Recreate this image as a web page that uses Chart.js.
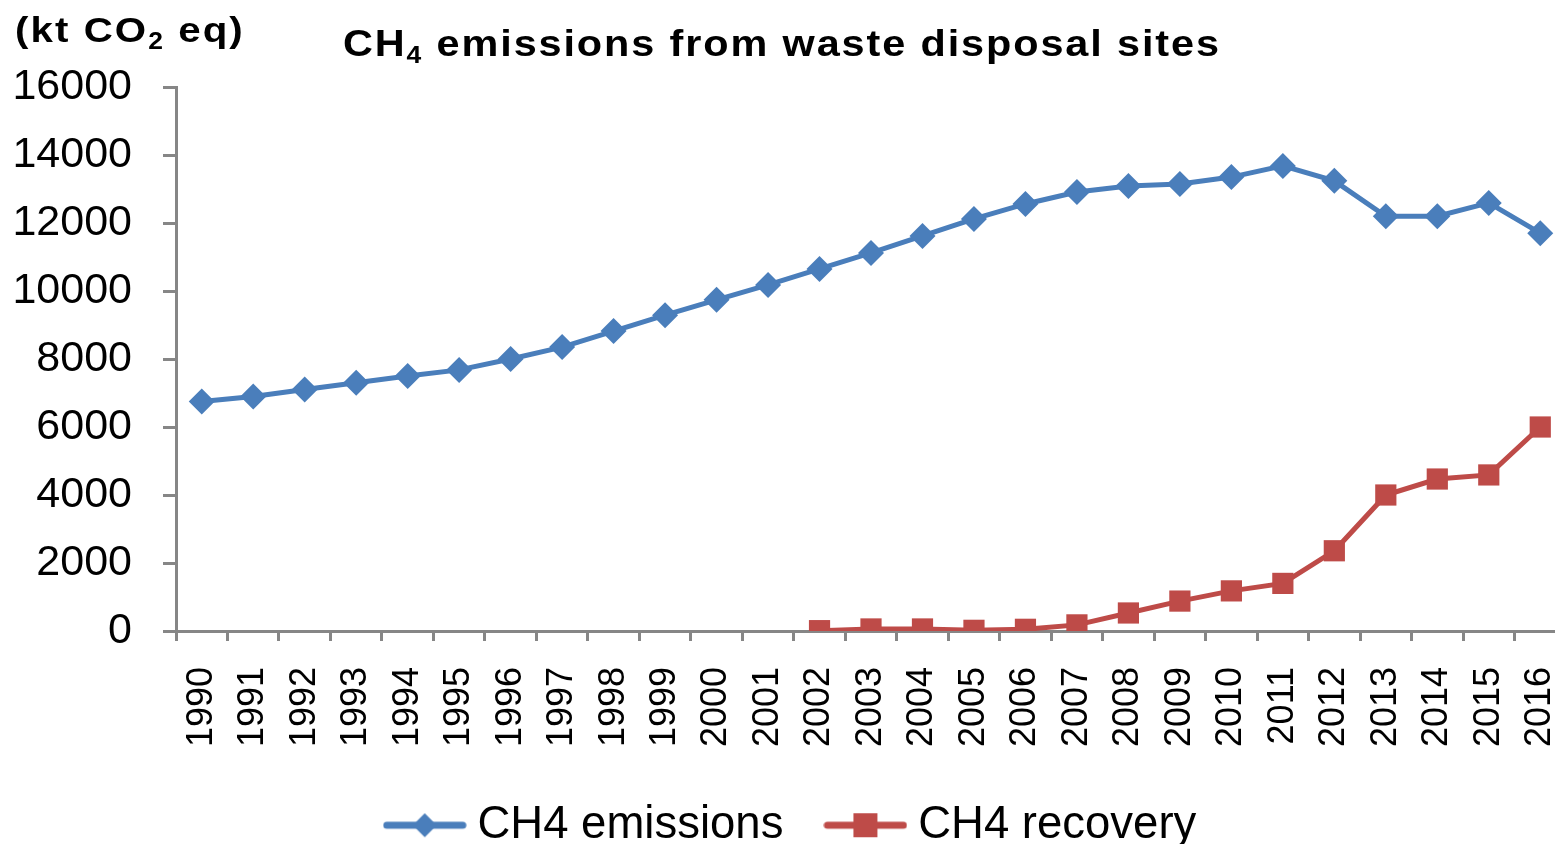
<!DOCTYPE html>
<html>
<head>
<meta charset="utf-8">
<script src="https://cdn.jsdelivr.net/npm/chart.js@4.4.1/dist/chart.umd.min.js"></script>
<style>
  html, body { margin: 0; padding: 0; background: #fff; overflow: hidden; }
  canvas { display: block; }
</style>
</head>
<body>
<canvas id="chart" width="1581" height="844"></canvas>
<script>
const years = ['1990', '1991', '1992', '1993', '1994', '1995', '1996', '1997', '1998', '1999',
  '2000', '2001', '2002', '2003', '2004', '2005', '2006', '2007', '2008', '2009',
  '2010', '2011', '2012', '2013', '2014', '2015', '2016'];
const emissions = [6750, 6900, 7100, 7300, 7500, 7680, 8000, 8350, 8820, 9290,
  9740, 10180, 10650, 11120, 11620, 12120, 12560, 12910, 13090, 13150,
  13350, 13680, 13240, 12200, 12200, 12590, 11700];
const recovery = [null, null, null, null, null, null, null, null, null, null,
  null, null, 10, 60, 60, 20, 50, 180, 530, 880,
  1180, 1400, 2360, 4000, 4470, 4590, 6000];
const yTicks = [0, 2000, 4000, 6000, 8000, 10000, 12000, 14000, 16000];

const blue = '#4A7EBB';
const red = '#BE4B48';
const axisGrey = '#868686';
const font = '"Liberation Sans", Arial, sans-serif';

// little line + marker image for the legend
function legendMark(color, shape) {
  const c = document.createElement('canvas');
  c.width = 84;
  c.height = 30;
  const g = c.getContext('2d');
  g.strokeStyle = color;
  g.lineWidth = 7;
  g.lineCap = 'round';
  g.beginPath();
  g.moveTo(4, 15);
  g.lineTo(80, 15);
  g.stroke();
  g.fillStyle = color;
  if (shape === 'diamond') {
    g.beginPath();
    g.moveTo(42, 3); g.lineTo(54, 15); g.lineTo(42, 27); g.lineTo(30, 15);
    g.closePath();
    g.fill();
  } else {
    g.fillRect(30, 3, 24, 24);
  }
  return c;
}
const marks = [legendMark(blue, 'diamond'), legendMark(red, 'square')];

// title and unit label with subscripts (the original type is a bit wide)
const headings = {
  id: 'headings',
  afterDraw(chart) {
    const ctx = chart.ctx;
    function run(parts, x, y, size, spacing, stretch) {
      ctx.save();
      ctx.fillStyle = '#000';
      ctx.textBaseline = 'alphabetic';
      ctx.translate(x, y);
      ctx.scale(stretch, 1);
      ctx.letterSpacing = spacing + 'px';
      let cx = 0;
      for (const [txt, sub] of parts) {
        ctx.font = 'bold ' + (sub ? Math.round(size * 0.65) : size) + 'px ' + font;
        ctx.fillText(txt, cx, sub ? size * 0.2 : 0);
        cx += ctx.measureText(txt).width;
      }
      ctx.letterSpacing = '0px';
      ctx.restore();
    }
    run([['(kt CO', false], ['2', true], [' eq)', false]], 15, 42, 35, 1.8, 1.15);
    run([['CH', false], ['4', true], [' emissions from waste disposal sites', false]], 343, 56, 36, 1.65, 1.15);
  }
};

new Chart(document.getElementById('chart'), {
  type: 'line',
  data: {
    labels: years,
    datasets: [{
      label: 'CH4 emissions',
      data: emissions,
      borderColor: blue,
      backgroundColor: blue,
      borderWidth: 5,
      pointStyle: 'rectRot',
      pointRadius: 13,
      pointHoverRadius: 13,
      pointBorderWidth: 0
    }, {
      label: 'CH4 recovery',
      data: recovery,
      borderColor: red,
      backgroundColor: red,
      borderWidth: 5,
      pointStyle: 'rect',
      pointRadius: 15,
      pointHoverRadius: 15,
      pointBorderWidth: 0
    }]
  },
  options: {
    responsive: false,
    animation: false,
    layout: { padding: { top: 87, left: 10, right: 0, bottom: -14 } },
    plugins: {
      title: { display: false },
      tooltip: { enabled: false },
      legend: {
        position: 'bottom',
        labels: {
          usePointStyle: true,
          pointStyleWidth: 60,
          padding: 52,
          color: '#000',
          font: { family: font, size: 45.5, lineHeight: 1 },
          generateLabels(chart) {
            const items = Chart.defaults.plugins.legend.labels.generateLabels(chart);
            items.forEach((it, i) => { it.pointStyle = marks[i]; });
            return items;
          }
        }
      }
    },
    scales: {
      x: {
        offset: true,
        afterFit(axis) {
          // plot runs to the right edge; axis box just holds ticks + labels
          axis.paddingLeft = 0;
          axis.paddingRight = 0;
          axis.height = 119.5;
        },
        grid: {
          offset: true,
          drawOnChartArea: false,
          drawTicks: true,
          tickLength: 10,
          tickWidth: 3,
          tickColor: axisGrey
        },
        border: { color: axisGrey, width: 3 },
        ticks: {
          color: '#000',
          font: { family: font, size: 36 },
          minRotation: 90,
          maxRotation: 90,
          padding: 26,
          autoSkip: false
        }
      },
      y: {
        min: 0,
        max: 16000,
        afterBuildTicks(axis) { axis.ticks = yTicks.map(v => ({ value: v })); },
        afterFit(axis) { axis.width = 166; },
        grid: {
          drawOnChartArea: false,
          drawTicks: true,
          tickLength: 13,
          tickWidth: 3,
          tickColor: axisGrey
        },
        border: { color: axisGrey, width: 3 },
        ticks: {
          color: '#000',
          font: { family: font, size: 43 },
          padding: 31,
          callback: v => String(v)
        }
      }
    }
  },
  plugins: [headings]
});
</script>
</body>
</html>
